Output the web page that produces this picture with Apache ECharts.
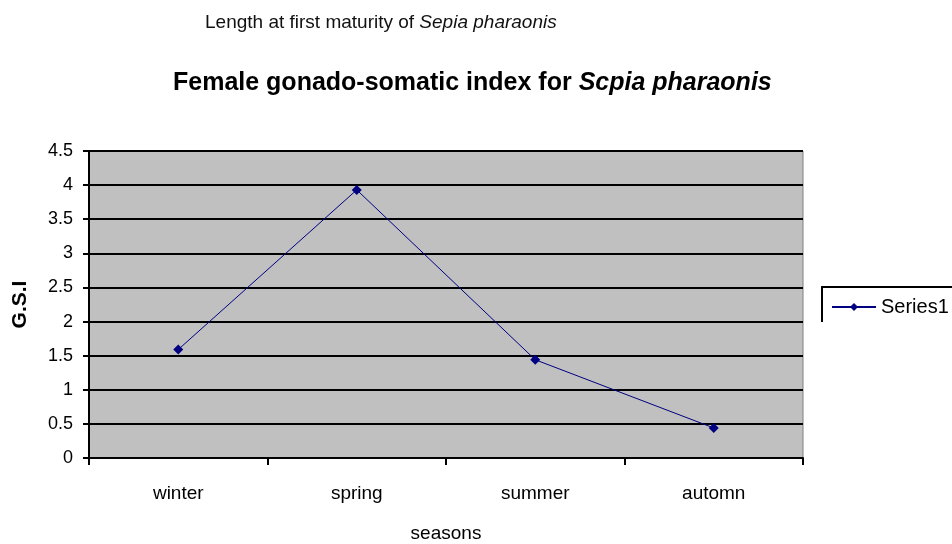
<!DOCTYPE html>
<html>
<head>
<meta charset="utf-8">
<script src="https://cdn.jsdelivr.net/npm/echarts@6/dist/echarts.min.js"></script>
<style>html,body{margin:0;padding:0;background:#fff;}#c{width:952px;height:544px;}</style>
</head>
<body>
<div id="c"></div>
<script>
var categories = ['winter', 'spring', 'summer', 'automn'];
var series1 = [1.59, 3.93, 1.44, 0.44];
var yTicks = { min: 0, max: 4.5, interval: 0.5 };

var chart = echarts.init(document.getElementById('c'));
chart.setOption({
  animation: false,
  backgroundColor: '#fff',
  title: [
    {
      text: '{n|Length at first maturity of }{i|Sepia pharaonis}',
      left: 200, top: 8,
      textStyle: { fontWeight: 'normal', rich: {
        n: { fontFamily: 'Liberation Sans', fontSize: 19, fontWeight: 'normal', color: '#111' },
        i: { fontFamily: 'Liberation Sans', fontSize: 19, fontWeight: 'normal', color: '#111', fontStyle: 'italic' }
      } }
    },
    {
      text: '{n|Female gonado-somatic index for }{i|Scpia pharaonis}',
      left: 168, top: 66,
      textStyle: { rich: {
        n: { fontFamily: 'Liberation Sans', fontSize: 25, fontWeight: 'bold', color: '#000' },
        i: { fontFamily: 'Liberation Sans', fontSize: 25, fontWeight: 'bold', fontStyle: 'italic', color: '#000' }
      } }
    }
  ],
  graphic: [
    { type: 'polyline', shape: { points: [[822, 322], [822, 287], [960, 287]] }, style: { stroke: '#000', lineWidth: 2, fill: null } }
  ],
  legend: {
    left: 826, top: 292, itemWidth: 44, itemHeight: 10, itemGap: 4,
    textStyle: { fontFamily: 'Liberation Sans', fontSize: 20, color: '#000' },
    data: ['Series1']
  },
  grid: { left: 89, right: 149, top: 151, bottom: 86, outerBoundsMode: 'none', containLabel: false, show: true, backgroundColor: '#c0c0c0', borderColor: '#808080', borderWidth: 1 },
  xAxis: {
    type: 'category', data: categories, boundaryGap: true,
    name: 'seasons', nameLocation: 'middle', nameGap: 66,
    nameTextStyle: { fontFamily: 'Liberation Sans', fontSize: 19, color: '#000' },
    axisLine: { lineStyle: { color: '#000', width: 2 } },
    axisTick: { show: true, length: 7, alignWithLabel: false, lineStyle: { color: '#000', width: 2 } },
    axisLabel: { fontFamily: 'Liberation Sans', fontSize: 19, color: '#000', margin: 26 }
  },
  yAxis: {
    type: 'value', min: yTicks.min, max: yTicks.max, interval: yTicks.interval,
    name: 'G.S.I', nameLocation: 'middle', nameGap: 58,
    nameTextStyle: { fontFamily: 'Liberation Sans', fontSize: 21, fontWeight: 'bold', color: '#000' },
    axisLine: { show: true, lineStyle: { color: '#000', width: 2 } },
    axisTick: { show: true, length: 6, lineStyle: { color: '#000', width: 2 } },
    splitLine: { show: true, lineStyle: { color: '#000', width: 2 } },
    axisLabel: { fontFamily: 'Liberation Sans', fontSize: 18, color: '#000', margin: 16 }
  },
  series: [{
    name: 'Series1', type: 'line', data: series1,
    symbol: 'diamond', symbolSize: 10,
    lineStyle: { color: '#000080', width: 1 },
    itemStyle: { color: '#000080' }
  }]
});
</script>
</body>
</html>
